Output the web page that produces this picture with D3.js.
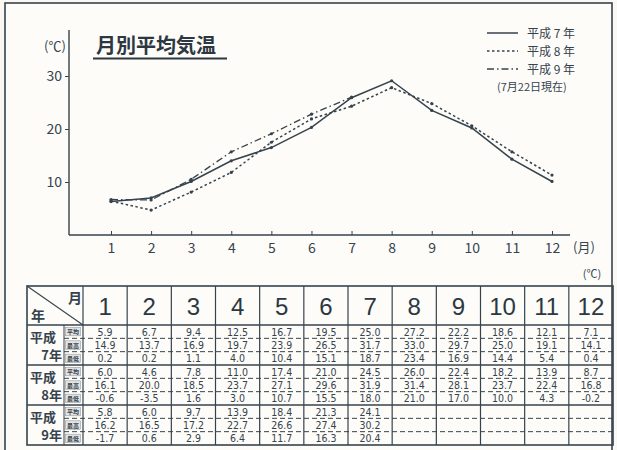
<!DOCTYPE html>
<html>
<head>
<meta charset="utf-8">
<script src="https://cdn.jsdelivr.net/npm/d3@7/dist/d3.min.js"></script>
<style>
  body { margin: 0; background: #fbf8f4; }
  svg { display: block; font-family: 'Noto Sans CJK JP', sans-serif; }
  .num { font-family: 'Liberation Sans Narrow', 'DejaVu Sans Condensed', sans-serif; }
</style>
</head>
<body>
<svg></svg>
<script>
// chart data
let months = [1,2,3,4,5,6,7,8,9,10,11,12]
let lineH7 = [6.3, 7.0, 10.1, 14.0, 16.5, 20.3, 25.9, 29.1, 23.5, 20.2, 14.3, 10.1]
let lineH8 = [6.4, 4.7, 8.1, 11.8, 17.5, 21.9, 24.3, 27.8, 24.8, 20.6, 15.7, 11.3]
let lineH9 = [6.7, 6.6, 10.5, 15.7, 19.1, 22.8, 26.0]
let yTicks = [10, 20, 30]

// table data
let avg7 = ['5.9','6.7','9.4','12.5','16.7','19.5','25.0','27.2','22.2','18.6','12.1','7.1']
let max7 = ['14.9','13.7','16.9','19.7','23.9','26.5','31.7','33.0','29.7','25.0','19.1','14.1']
let min7 = ['0.2','0.2','1.1','4.0','10.4','15.1','18.7','23.4','16.9','14.4','5.4','0.4']
let avg8 = ['6.0','4.6','7.8','11.0','17.4','21.0','24.5','26.0','22.4','18.2','13.9','8.7']
let max8 = ['16.1','20.0','18.5','23.7','27.1','29.6','31.9','31.4','28.1','23.7','22.4','16.8']
let min8 = ['-0.6','-3.5','1.6','3.0','10.7','15.5','18.0','21.0','17.0','10.0','4.3','-0.2']
let avg9 = ['5.8','6.0','9.7','13.9','18.4','21.3','24.1']
let max9 = ['16.2','16.5','17.2','22.7','26.6','27.4','30.2']
let min9 = ['-1.7','0.6','2.9','6.4','11.7','16.3','20.4']
let years = ['7年','8年','9年']
let subLabels = ['平均','最高','最低']

let ink = '#36434d'

let svg = d3.select('svg').attr('width', 617).attr('height', 450)

// frame
svg.append('rect')
  .attr('x', 5).attr('y', 3).attr('width', 607).attr('height', 460)
  .attr('fill', '#fdfcf9').attr('stroke', ink).attr('stroke-width', 1.6)

// ---- line chart
let x = d3.scaleLinear().domain([1, 12]).range([111, 552])
let y = d3.scaleLinear().domain([0, 30]).range([235, 76])

svg.append('line').attr('x1', 69).attr('x2', 69).attr('y1', 30).attr('y2', 235)
  .attr('stroke', ink).attr('stroke-width', 1.4)

let xAxis = svg.append('g').attr('transform', 'translate(0,235)')
  .call(d3.axisBottom(x).tickValues(months).tickSizeInner(-4).tickSizeOuter(0).tickPadding(8))
xAxis.select('.domain').remove()
xAxis.append('line').attr('x1', 69).attr('x2', 570).attr('stroke', ink).attr('stroke-width', 1.4)
xAxis.selectAll('.tick line').attr('stroke', ink)
xAxis.selectAll('.tick text').attr('fill', ink).attr('font-size', 14)
  .attr('font-family', 'Noto Sans CJK JP, sans-serif')

let yAxis = svg.append('g').attr('transform', 'translate(69,0)')
  .call(d3.axisLeft(y).tickValues(yTicks).tickSize(4).tickPadding(3))
yAxis.select('.domain').remove()
yAxis.selectAll('.tick line').attr('stroke', ink)
yAxis.selectAll('.tick text').attr('fill', ink).attr('font-size', 14)
  .attr('font-family', 'Noto Sans CJK JP, sans-serif')

svg.append('text').attr('x', 55).attr('y', 51).attr('text-anchor', 'middle')
  .attr('font-size', 13).attr('fill', ink).text('(℃)')
svg.append('text').attr('x', 573).attr('y', 252)
  .attr('font-size', 13).attr('fill', ink).text('(月)')

// title
svg.append('text').attr('x', 96).attr('y', 53)
  .attr('font-size', 20).attr('font-weight', 'bold').attr('fill', '#2c3741').text('月別平均気温')
svg.append('line').attr('x1', 93).attr('x2', 227).attr('y1', 58.5).attr('y2', 58.5)
  .attr('stroke', '#2c3741').attr('stroke-width', 2)

let series = [
  {vals: lineH7, dash: null, w: 1.5},
  {vals: lineH8, dash: '2.5,2.5', w: 1.5},
  {vals: lineH9, dash: '7,3,1.5,3', w: 1.3}
]

let lineGen = d3.line()
  .x(function(d, i) { return x(months[i]) })
  .y(function(d) { return y(d) })

series.forEach(function(s) {
  svg.append('path')
    .attr('d', lineGen(s.vals))
    .attr('fill', 'none')
    .attr('stroke', ink)
    .attr('stroke-width', s.w)
    .attr('stroke-dasharray', s.dash)
  svg.append('g').selectAll('circle')
    .data(s.vals)
    .enter().append('circle')
    .attr('cx', function(d, i) { return x(months[i]) })
    .attr('cy', function(d) { return y(d) })
    .attr('r', 1.6)
    .attr('fill', ink)
})

// legend
let legendNames = ['平成 7 年', '平成 8 年', '平成 9 年']
series.forEach(function(s, i) {
  let ly = 33 + i * 18
  svg.append('line').attr('x1', 487).attr('x2', 518).attr('y1', ly).attr('y2', ly)
    .attr('stroke', ink).attr('stroke-width', s.w).attr('stroke-dasharray', s.dash)
  svg.append('text').attr('x', 527).attr('y', ly + 4.5)
    .attr('font-size', 12).attr('fill', ink).text(legendNames[i])
})
svg.append('text').attr('x', 497).attr('y', 91)
  .attr('font-size', 11).attr('fill', ink).text('(7月22日現在)')

// ---- table
let tLeft = 27, tRight = 613, tTop = 286, headH = 39, groupH = 40
let col = d3.scaleBand().domain(months).range([83, tRight])
let groups = [[avg7, max7, min7], [avg8, max8, min8], [avg9, max9, min9]]
let tBottom = tTop + headH + groupH * 3

svg.append('text').attr('x', 592).attr('y', 278).attr('text-anchor', 'middle')
  .attr('font-size', 11).attr('fill', ink).text('(℃)')

let table = svg.append('g')

// header numbers
table.selectAll('.mh')
  .data(months)
  .enter().append('text')
  .attr('x', function(d) { return col(d) + col.bandwidth() / 2 })
  .attr('y', tTop + 29)
  .attr('text-anchor', 'middle')
  .attr('font-size', 24)
  .attr('font-family', 'Liberation Sans, sans-serif')
  .attr('fill', '#2c3741')
  .text(function(d) { return d })

// corner
table.append('line').attr('x1', tLeft).attr('y1', tTop).attr('x2', 83).attr('y2', tTop + headH)
  .attr('stroke', ink).attr('stroke-width', 1.1)
table.append('text').attr('x', 75).attr('y', tTop + 17).attr('text-anchor', 'middle')
  .attr('font-size', 14).attr('font-weight', 'bold').attr('fill', ink).text('月')
table.append('text').attr('x', 38).attr('y', tTop + 35).attr('text-anchor', 'middle')
  .attr('font-size', 14).attr('font-weight', 'bold').attr('fill', ink).text('年')

let subH = groupH / 3
groups.forEach(function(g, gi) {
  let gy = tTop + headH + gi * groupH
  table.append('text').attr('x', 30).attr('y', gy + 17)
    .attr('font-size', 13).attr('font-weight', 'bold').attr('fill', ink).text('平成')
  table.append('text').attr('x', 62).attr('y', gy + 35).attr('text-anchor', 'end')
    .attr('font-size', 13).attr('font-weight', 'bold').attr('fill', ink).text(years[gi])
  subLabels.forEach(function(lab, si) {
    table.append('rect').attr('x', 65.5).attr('y', gy + si * subH + 2.5)
      .attr('width', 15).attr('height', subH - 5)
      .attr('fill', '#e4e4e2').attr('stroke', '#7f8a90').attr('stroke-width', 0.5)
    table.append('text').attr('x', 73).attr('y', gy + si * subH + 9.2).attr('text-anchor', 'middle')
      .attr('font-size', 6).attr('font-weight', 'bold').attr('fill', ink).text(lab)
  })
  // dashed separators
  for (let k = 1; k < 3; k++) {
    table.append('line').attr('x1', 64).attr('x2', tRight)
      .attr('y1', gy + k * subH).attr('y2', gy + k * subH)
      .attr('stroke', ink).attr('stroke-width', 1).attr('stroke-dasharray', '5,3')
  }
  g.forEach(function(vals, si) {
    table.append('g').selectAll('text')
      .data(vals)
      .enter().append('text')
      .attr('class', 'num')
      .attr('x', function(d, i) { return col(months[i]) + col.bandwidth() / 2 })
      .attr('y', gy + si * subH + 10.5)
      .attr('text-anchor', 'middle')
      .attr('font-size', 10.5)
      .attr('fill', ink)
      .text(function(d) { return d })
  })
  // group border
  table.append('line').attr('x1', tLeft).attr('x2', tRight).attr('y1', gy).attr('y2', gy)
    .attr('stroke', ink).attr('stroke-width', 1.3)
  table.append('line').attr('x1', 64).attr('x2', 64).attr('y1', gy).attr('y2', gy + groupH)
    .attr('stroke', ink).attr('stroke-width', 1)
})

// column lines
table.selectAll('.cl')
  .data(months)
  .enter().append('line')
  .attr('x1', function(d) { return col(d) }).attr('x2', function(d) { return col(d) })
  .attr('y1', tTop).attr('y2', tBottom)
  .attr('stroke', ink).attr('stroke-width', 1.2)

table.append('rect').attr('x', tLeft).attr('y', tTop)
  .attr('width', tRight - tLeft).attr('height', tBottom - tTop)
  .attr('fill', 'none').attr('stroke', ink).attr('stroke-width', 1.6)
</script>
</body>
</html>
